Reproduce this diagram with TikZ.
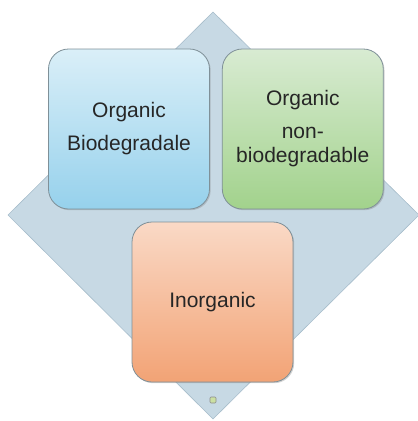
\documentclass[tikz,border=0pt]{standalone}
\usepackage{fontspec}
\setmainfont{Liberation Sans}
\usepackage{tikz}
\usetikzlibrary{positioning, shadows}

\definecolor{diamondfill}{HTML}{C7D9E4}
\definecolor{diamondline}{HTML}{A7BDCB}
\definecolor{bluetop}{HTML}{DAEFF8}
\definecolor{bluebot}{HTML}{96D1EC}
\definecolor{greentop}{HTML}{D8EBD2}
\definecolor{greenbot}{HTML}{A2D28C}
\definecolor{orangetop}{HTML}{FAD9C6}
\definecolor{orangebot}{HTML}{F2A375}
\definecolor{boxline}{HTML}{7F9098}
\definecolor{markerfill}{HTML}{CBE0A2}

\tikzset{
    wastebox/.style={rectangle, rounded corners=20pt, draw=boxline, line width=0.8pt,
        minimum width=161pt, minimum height=160pt, align=center, text=black!85,
        font=\fontsize{21}{33}\selectfont,
        drop shadow={shadow xshift=1.2pt, shadow yshift=-1.2pt, opacity=0.35}},
}

\begin{document}
\begin{tikzpicture}[x=1pt, y=-1pt]
    \useasboundingbox (0,0) rectangle (418,421);

    % Diamond background
    \coordinate (dtop) at (213,12);
    \coordinate (dright) at (419,215);
    \coordinate (dbottom) at (213,419);
    \coordinate (dleft) at (8,215);
    \draw[diamondline, fill=diamondfill, line width=0.6pt]
        (dtop) -- (dright) -- (dbottom) -- (dleft) -- cycle;

    % Waste categories
    \node[wastebox, top color=bluetop, bottom color=bluebot] (organic) at (129,129)
        {Organic\\Biodegradale};
    \node[wastebox, top color=greentop, bottom color=greenbot, right=12pt of organic,
        font=\fontsize{21}{24}\selectfont] (nonbio)
        {Organic\\[9pt]non-\\biodegradable};
    \node[wastebox, top color=orangetop, bottom color=orangebot] (inorganic) at (212.5,302)
        {Inorganic};

    % Small marker near bottom vertex
    \node[draw=black!45, fill=markerfill, minimum size=6pt, inner sep=0pt,
        line width=0.6pt, rounded corners=1pt] (marker) at (213,400) {};
\end{tikzpicture}
\end{document}
